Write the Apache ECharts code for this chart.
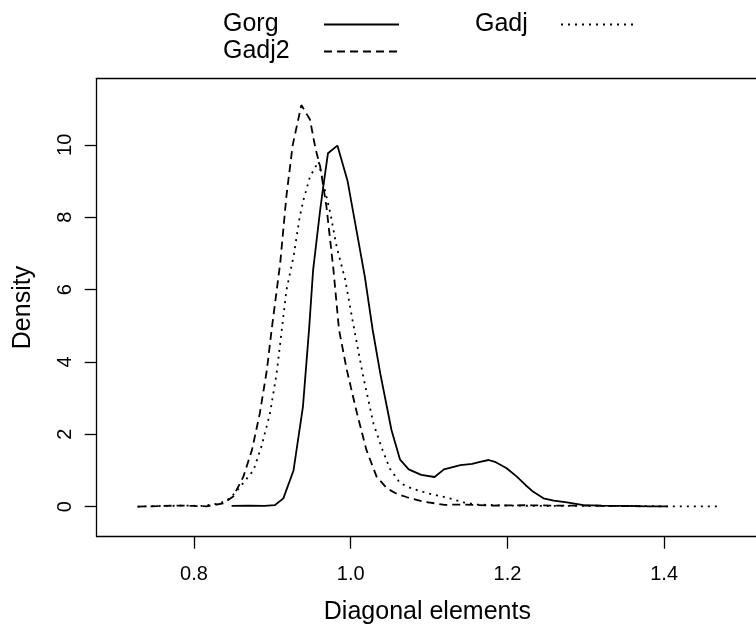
<!DOCTYPE html>
<html>
<head>
<meta charset="utf-8">
<script src="https://cdn.jsdelivr.net/npm/echarts@6/dist/echarts.min.js"></script>
<style>html,body{margin:0;padding:0;background:#fff}#c{width:756px;height:627px}</style>
</head>
<body>
<div id="c"></div>
<script>
const seriesNames = ["Gorg", "Gadj", "Gadj2"];
const xTicks = [0.8, 1.0, 1.2, 1.4];
const yTicks = [0, 2, 4, 6, 8, 10];

const gorgX = [0.848, 0.87, 0.89, 0.903, 0.914, 0.927, 0.939, 0.947, 0.952, 0.961, 0.965, 0.971, 0.983, 0.996, 1.008, 1.018, 1.028, 1.038, 1.052, 1.063, 1.074, 1.09, 1.107, 1.119, 1.14, 1.155, 1.165, 1.176, 1.184, 1.199, 1.212, 1.223, 1.233, 1.246, 1.259, 1.276, 1.297, 1.32, 1.35, 1.38, 1.405];
const gorgY = [0.02, 0.03, 0.02, 0.04, 0.23, 1.0, 2.76, 4.95, 6.54, 8.2, 8.85, 9.77, 9.98, 9.0, 7.56, 6.36, 4.89, 3.65, 2.12, 1.3, 1.03, 0.88, 0.82, 1.03, 1.15, 1.18, 1.24, 1.29, 1.24, 1.06, 0.83, 0.6, 0.41, 0.23, 0.17, 0.12, 0.04, 0.03, 0.02, 0.01, 0.01];

const gadjX = [0.728, 0.76, 0.79, 0.81, 0.833, 0.846, 0.859, 0.876, 0.886, 0.897, 0.9055, 0.912, 0.918, 0.927, 0.935, 0.940, 0.948, 0.959, 0.965, 0.974, 0.982, 0.993, 1.003, 1.016, 1.029, 1.04, 1.05, 1.063, 1.078, 1.10, 1.123, 1.144, 1.16, 1.2, 1.25, 1.3, 1.35, 1.4, 1.47];
const gadjY = [0.0, 0.02, 0.03, 0.02, 0.09, 0.23, 0.55, 1.01, 1.66, 2.58, 3.69, 4.88, 5.99, 6.91, 8.02, 8.5, 9.12, 9.54, 8.94, 8.11, 7.19, 6.27, 5.07, 3.59, 2.3, 1.6, 1.05, 0.65, 0.5, 0.36, 0.25, 0.12, 0.06, 0.03, 0.02, 0.02, 0.02, 0.01, 0.01];

const gadj2X = [0.728, 0.76, 0.782, 0.80, 0.816, 0.837, 0.85, 0.863, 0.874, 0.884, 0.893, 0.899, 0.91, 0.918, 0.926, 0.937, 0.948, 0.955, 0.961, 0.969, 0.978, 0.985, 0.995, 1.008, 1.02, 1.033, 1.046, 1.059, 1.072, 1.093, 1.12, 1.145, 1.18, 1.22, 1.26, 1.3, 1.34, 1.37];
const gadj2Y = [0.0, 0.02, 0.03, 0.02, 0.01, 0.09, 0.28, 0.83, 1.57, 2.58, 3.78, 4.88, 6.73, 8.6, 10.0, 11.1, 10.7, 9.9, 9.4, 8.3, 6.54, 4.9, 3.78, 2.58, 1.57, 0.83, 0.51, 0.35, 0.26, 0.14, 0.05, 0.06, 0.03, 0.04, 0.03, 0.03, 0.02, 0.01];

const pairs = (xs, ys) => xs.map((x, i) => [x, ys[i]]);
const FONT = '"Liberation Sans", Arial, sans-serif';

const chart = echarts.init(document.getElementById('c'), null, {renderer: 'canvas'});
const lineBase = {type: 'line', symbol: 'none', showSymbol: false, silent: true, animation: false};

function legendAt(name, left, top, textW) {
  return {
    data: [name], left: left, top: top, orient: 'horizontal', align: 'right',
    padding: 0, itemWidth: 75, itemHeight: 14, selectedMode: false,
    itemStyle: {color: 'rgba(0,0,0,0)', borderWidth: 0, opacity: 0},
    formatter: '{t|{name}}',
    textStyle: {fontFamily: FONT, fontSize: 25, color: '#000', lineHeight: 25,
      rich: {t: {width: textW, align: 'left', fontFamily: FONT, fontSize: 25, color: '#000', lineHeight: 25}}}
  };
}

chart.setOption({
  animation: false,
  backgroundColor: '#fff',
  legend: [
    legendAt(seriesNames[0], 223, 12, 96),
    legendAt(seriesNames[2], 223, 39, 96),
    legendAt(seriesNames[1], 475, 12, 81)
  ],
  grid: {left: 96.7, top: 78.3, right: -2, bottom: 90.3, containLabel: false, outerBoundsMode: 'none'},
  xAxis: [{
    type: 'value', position: 'bottom', min: 0.6758, max: 1.5198,
    name: 'Diagonal elements', nameLocation: 'middle', nameGap: 63,
    nameTextStyle: {fontFamily: FONT, fontSize: 25, color: '#000'},
    axisLine: {show: true, onZero: false, lineStyle: {color: '#000', width: 1.3}},
    axisTick: {show: true, length: 12, inside: false, customValues: xTicks, lineStyle: {color: '#000', width: 1.3}},
    axisLabel: {show: true, customValues: xTicks, margin: 28, fontFamily: FONT, fontSize: 20, color: '#000',
      formatter: v => Number(v).toFixed(1)},
    splitLine: {show: false}
  }, {
    type: 'value', position: 'top', min: 0.6758, max: 1.5198,
    axisLine: {show: true, onZero: false, lineStyle: {color: '#000', width: 1.3}},
    axisTick: {show: false}, axisLabel: {show: false}, splitLine: {show: false}
  }],
  yAxis: {
    type: 'value', min: -0.83, max: 11.84,
    name: 'Density', nameLocation: 'middle', nameGap: 61, nameRotate: 90,
    nameTextStyle: {fontFamily: FONT, fontSize: 25, color: '#000'},
    axisLine: {show: true, onZero: false, lineStyle: {color: '#000', width: 1.3}},
    axisTick: {show: true, length: 12, inside: false, customValues: yTicks, lineStyle: {color: '#000', width: 1.3}},
    axisLabel: {show: true, customValues: yTicks, rotate: 90, margin: 21, fontFamily: FONT, fontSize: 20, color: '#000'},
    splitLine: {show: false}
  },
  series: [
    Object.assign({}, lineBase, {name: seriesNames[0], data: pairs(gorgX, gorgY),
      lineStyle: {color: '#000', width: 1.8, type: 'solid'}, itemStyle: {color: '#000'}}),
    Object.assign({}, lineBase, {name: seriesNames[1], data: pairs(gadjX, gadjY),
      lineStyle: {color: '#000', width: 1.8, type: [2, 5]}, itemStyle: {color: '#000'}}),
    Object.assign({}, lineBase, {name: seriesNames[2], data: pairs(gadj2X, gadj2Y),
      lineStyle: {color: '#000', width: 1.8, type: [8, 5]}, itemStyle: {color: '#000'}})
  ]
});
</script>
</body>
</html>
